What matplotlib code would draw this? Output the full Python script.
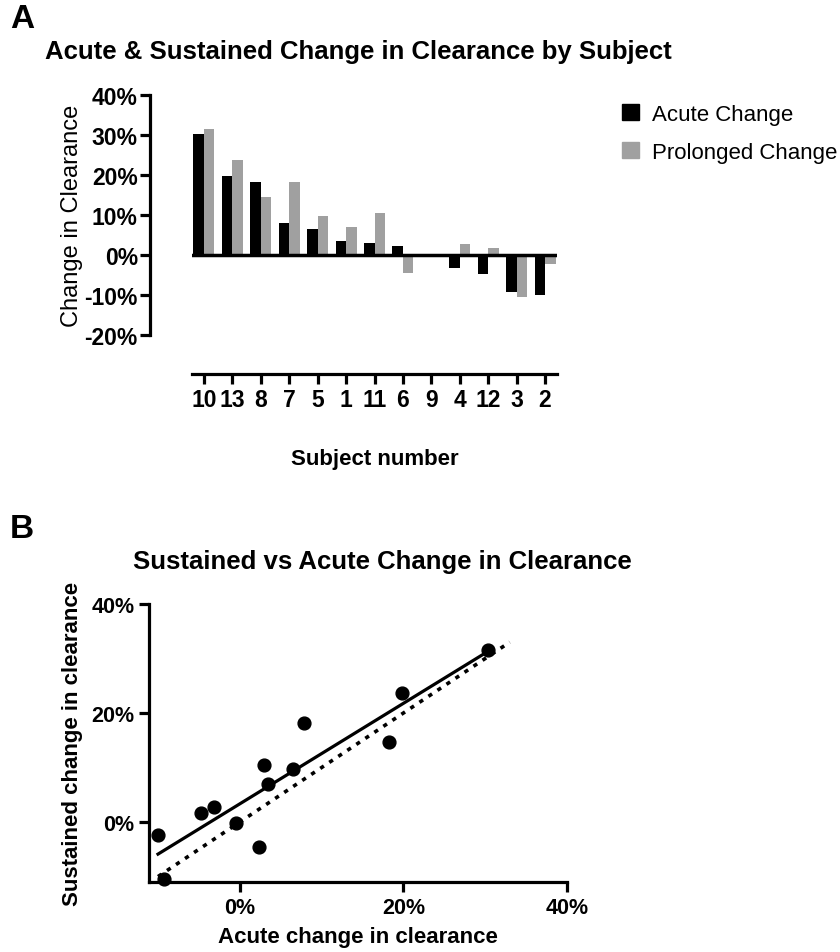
import numpy as np
import matplotlib.pyplot as plt
from matplotlib.patches import Patch
from matplotlib.ticker import FuncFormatter

plt.rcParams['font.family'] = ['Liberation Sans', 'DejaVu Sans']

subjects = ['10', '13', '8', '7', '5', '1', '11', '6', '9', '4', '12', '3', '2']
acute = [30.3, 19.8, 18.2, 7.9, 6.5, 3.4, 3.0, 2.3, -0.5, -3.2, -4.7, -9.3, -10.0]
prolonged = [31.6, 23.7, 14.6, 18.2, 9.7, 6.9, 10.5, -4.5, -0.2, 2.7, 1.7, -10.5, -2.3]

pct = FuncFormatter(lambda v, p: f"{v:.0f}%")
W, H = 840, 953

fig = plt.figure(figsize=(8.4, 9.53), dpi=100)

# ---- panel A: bars
axA = fig.add_axes([192/W, 1-336/H, 365/W, 240/H])
x = np.arange(len(subjects))
bw = 0.37
axA.bar(x - bw/2, acute, bw, color='black', label='Acute Change')
axA.bar(x + bw/2, prolonged, bw, color='#a0a0a0', label='Prolonged Change')
axA.axhline(0, color='black', lw=2.5)
axA.set_xlim(-0.42, 12.42)
axA.set_ylim(-20, 40)
axA.set_yticks([-20, -10, 0, 10, 20, 30, 40])
axA.yaxis.set_major_formatter(pct)
axA.set_xticks(x)
axA.set_xticklabels(subjects)
for s in ['top', 'right']:
    axA.spines[s].set_visible(False)
axA.spines['left'].set_position(('outward', 30))
axA.spines['bottom'].set_position(('outward', 28))
for s in ['left', 'bottom']:
    axA.spines[s].set_linewidth(2.3)
axA.tick_params(width=2.3, length=7, labelsize=16.5)
axA.tick_params(axis='y', pad=2)
for t in axA.get_xticklabels() + axA.get_yticklabels():
    t.set_fontweight('bold')
axA.set_ylabel('Change in Clearance', fontsize=17, labelpad=1)
axA.set_xlabel('Subject number', fontsize=16, fontweight='bold', labelpad=26)
fig.text(45/W, 1-52/H, 'Acute & Sustained Change in Clearance by Subject',
         fontsize=18.5, fontweight='bold', va='center', ha='left')
fig.text(10/W, 1-20/H, 'A', fontsize=24, fontweight='bold', va='center', ha='left')

handles = [Patch(color='black'), Patch(color='#a0a0a0')]
fig.legend(handles, ['Acute Change', 'Prolonged Change'], loc='upper left',
           bbox_to_anchor=(622/W, 1-105/H), frameon=False, fontsize=16,
           handlelength=0.75, handleheight=0.75, handletextpad=0.6,
           labelspacing=0.75, borderaxespad=0, borderpad=0)

# ---- panel B: scatter
axB = fig.add_axes([149/W, 1-883/H, 418/W, 278/H])
axB.scatter(acute, prolonged, s=85, color='black', zorder=3, clip_on=False)
k, b = np.polyfit(acute, prolonged, 1)
xl = np.array([min(acute), max(acute)])
axB.plot(xl, k*xl + b, color='black', lw=2.3)
axB.plot([-10, 33], [-10, 33], color='black', lw=2.6, ls=(0, (1.2, 1.8)))
axB.set_xlim(-11.1, 40)
axB.set_ylim(-11, 40)
axB.set_xticks([0, 20, 40])
axB.set_yticks([0, 20, 40])
axB.xaxis.set_major_formatter(pct)
axB.yaxis.set_major_formatter(pct)
for s in ['top', 'right']:
    axB.spines[s].set_visible(False)
for s in ['left', 'bottom']:
    axB.spines[s].set_linewidth(2.3)
axB.tick_params(width=2.3, length=7, labelsize=15.5)
for t in axB.get_xticklabels() + axB.get_yticklabels():
    t.set_fontweight('bold')
axB.set_xlabel('Acute change in clearance', fontsize=16, fontweight='bold', labelpad=6)
axB.set_ylabel('Sustained change in clearance', fontsize=16, fontweight='bold', labelpad=6)
fig.text(133/W, 1-562/H, 'Sustained vs Acute Change in Clearance',
         fontsize=18.5, fontweight='bold', va='center', ha='left')
fig.text(10/W, 1-530/H, 'B', fontsize=24, fontweight='bold', va='center', ha='left')

fig.savefig('out.png', dpi=100)
